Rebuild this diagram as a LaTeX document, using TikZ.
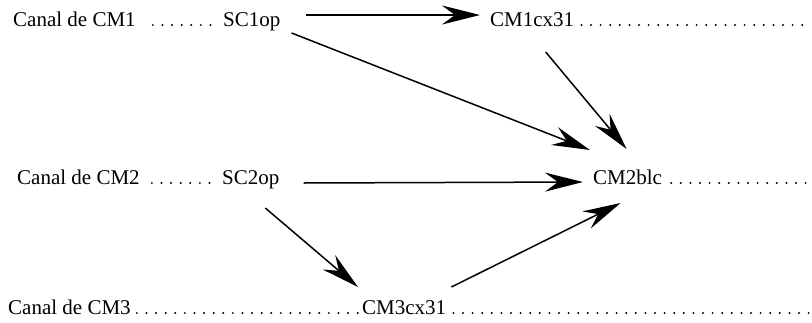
\documentclass[tikz,border=0pt]{standalone}
\usepackage{fontspec}
\setmainfont{Liberation Serif}
\usetikzlibrary{arrows.meta}
\begin{document}
\begin{tikzpicture}[x=1pt,y=1pt,
  lbl/.style={inner sep=0pt,font=\fontsize{21}{25}\selectfont},
  arr/.style={line width=1.5pt,-{Stealth[length=38pt,width=19pt,inset=13pt]}},
  dots/.style={line width=2.2pt,line cap=round,dash pattern=on 0pt off 9.6pt}]
\useasboundingbox (0,0) rectangle (812,-322);
% row labels
\node[lbl,anchor=base west] (c1) at (13,-26) {Canal de CM1};
\node[lbl,anchor=base west] (s1) at (223,-26) {SC1op};
\node[lbl,anchor=base west] (m1) at (490,-26) {CM1cx31};
\coordinate (e1) at (805,-25);
\node[lbl,anchor=base west] (c2) at (17,-184) {Canal de CM2};
\node[lbl,anchor=base west] (s2) at (222,-184) {SC2op};
\node[lbl,anchor=base west] (b2) at (593,-184) {CM2blc};
\coordinate (e2) at (811,-183);
\node[lbl,anchor=base west] (c3) at (8,-314) {Canal de CM3};
\node[lbl,anchor=base west] (m3) at (362,-314) {CM3cx31};
\coordinate (e3) at (810,-313);
% dotted leaders
\draw[dots] ([shift={(17,1)}]c1.base east) -- ([shift={(-9,1)}]s1.base west);
\draw[dots] ([shift={(7,1)}]m1.base east) -- (e1);
\draw[dots] ([shift={(12,1)}]c2.base east) -- ([shift={(-9,1)}]s2.base west);
\draw[dots] ([shift={(9,1)}]b2.base east) -- (e2);
\draw[dots] ([shift={(6,1)}]c3.base east) -- ([shift={(-2,1)}]m3.base west);
\draw[dots] ([shift={(7,1)}]m3.base east) -- (e3);
% arrows
\draw[arr] ([shift={(25,11)}]s1.base east) -- ([shift={(-10,11)}]m1.base west);
\draw[arr] ([shift={(11,-7)}]s1.base east) -- ([shift={(-3,34)}]b2.base west);
\draw[arr] ([shift={(13.5,-26)}]m1.base) -- ([shift={(-1,35)}]b2.base);
\draw[arr] ([shift={(24,1)}]s2.base east) -- ([shift={(-10,2)}]b2.base west);
\draw[arr] ([shift={(14.5,-24)}]s2.base) -- ([shift={(-4,27)}]m3.base west);
\draw[arr] ([shift={(5,27)}]m3.base east) -- ([shift={(-7,-19)}]b2.base);
\end{tikzpicture}
\end{document}
